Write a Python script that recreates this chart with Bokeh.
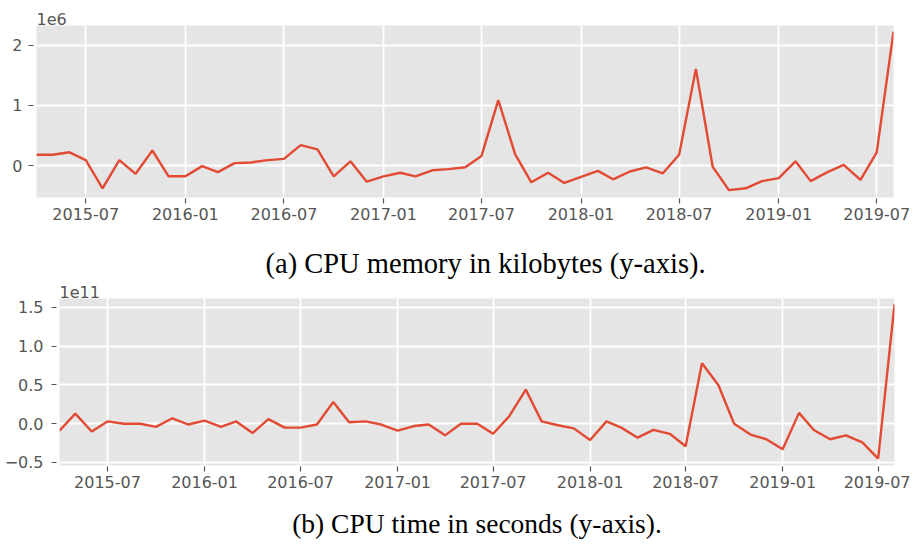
import datetime as dt
from bokeh.plotting import figure
from bokeh.layouts import column, row
from bokeh.models import (Range1d, FixedTicker, DatetimeTickFormatter,
                          CustomJSTickFormatter, Title, ColumnDataSource)
from bokeh.embed import file_html
from bokeh.resources import INLINE

# ---------------- data ----------------
months = [
    "2015-04", "2015-05", "2015-06", "2015-07", "2015-08", "2015-09", "2015-10", "2015-11", "2015-12",
    "2016-01", "2016-02", "2016-03", "2016-04", "2016-05", "2016-06", "2016-07", "2016-08", "2016-09",
    "2016-10", "2016-11", "2016-12", "2017-01", "2017-02", "2017-03", "2017-04", "2017-05", "2017-06",
    "2017-07", "2017-08", "2017-09", "2017-10", "2017-11", "2017-12", "2018-01", "2018-02", "2018-03",
    "2018-04", "2018-05", "2018-06", "2018-07", "2018-08", "2018-09", "2018-10", "2018-11", "2018-12",
    "2019-01", "2019-02", "2019-03", "2019-04", "2019-05", "2019-06", "2019-07", "2019-08",
]

# CPU memory in kilobytes, in units of 1e6
memory_1e6 = [
    0.18, 0.18, 0.22, 0.09, -0.38, 0.09, -0.14, 0.25, -0.18,
    -0.18, -0.01, -0.11, 0.04, 0.05, 0.09, 0.11, 0.34, 0.27,
    -0.18, 0.07, -0.27, -0.18, -0.12, -0.18, -0.08, -0.06, -0.03,
    0.16, 1.09, 0.19, -0.28, -0.12, -0.29, -0.19, -0.09, -0.23,
    -0.10, -0.03, -0.13, 0.18, 1.61, -0.02, -0.41, -0.38, -0.26,
    -0.21, 0.07, -0.26, -0.11, 0.01, -0.24, 0.22, 2.23,
]

# CPU time in seconds, in units of 1e11
time_1e11 = [
    -0.09, 0.13, -0.10, 0.03, 0.00, 0.00, -0.04, 0.07, -0.01,
    0.04, -0.04, 0.03, -0.12, 0.06, -0.05, -0.05, -0.01, 0.28,
    0.02, 0.03, -0.01, -0.09, -0.03, -0.01, -0.15, 0.00, 0.00,
    -0.13, 0.10, 0.44, 0.03, -0.02, -0.06, -0.21, 0.03, -0.05,
    -0.18, -0.08, -0.13, -0.29, 0.78, 0.50, 0.00, -0.14, -0.20,
    -0.33, 0.14, -0.08, -0.20, -0.15, -0.24, -0.45, 1.54,
]

x_tick_labels = ["2015-07", "2016-01", "2016-07", "2017-01", "2017-07",
                 "2018-01", "2018-07", "2019-01", "2019-07"]
memory_ticks = [0, 1, 2]
time_ticks = [-0.5, 0.0, 0.5, 1.0, 1.5]

caption_a = "(a) CPU memory in kilobytes (y-axis)."
caption_b = "(b) CPU time in seconds (y-axis)."

# ---------------- helpers ----------------
def to_date(s):
    y, m = s.split("-")
    return dt.datetime(int(y), int(m), 1)

dates = [to_date(s) for s in months]
tick_ms = [(to_date(s) - dt.datetime(1970, 1, 1)).total_seconds() * 1000 for s in x_tick_labels]

BG = "#E5E5E5"
LINE = "#E24A33"
TXT = "#555555"
SANS = "DejaVu Sans"
SERIF = "Liberation Serif"


def make_panel(yvals, yticks, yrange, left, frame_w, right, top, frame_h, bottom,
               ylabel_fmt, y_standoff):
    p = figure(x_axis_type="datetime", output_backend="svg", toolbar_location=None,
               title=None,
               width=left + frame_w + right, height=top + frame_h + bottom,
               min_border_left=left, min_border_right=right,
               min_border_top=top, min_border_bottom=bottom,
               x_range=Range1d(dates[0], dates[-1]),
               y_range=Range1d(*yrange))
    p.background_fill_color = BG
    p.border_fill_color = "white"
    p.outline_line_color = None

    src = ColumnDataSource(dict(x=dates, y=yvals))
    p.line("x", "y", source=src, line_color=LINE, line_width=2.4)

    for g in (p.xgrid, p.ygrid):
        g.grid_line_color = "white"
        g.grid_line_width = 1.8
    for ax in (p.xaxis[0], p.yaxis[0]):
        ax.axis_line_color = None
        ax.major_tick_line_color = TXT
        ax.major_tick_line_width = 1.2
        ax.minor_tick_line_color = None
        ax.major_label_text_color = TXT
        ax.major_label_text_font = SANS
        ax.major_label_text_font_size = "16px"

    p.xaxis[0].ticker = FixedTicker(ticks=tick_ms)
    p.xaxis[0].formatter = DatetimeTickFormatter(
        days="%Y-%m", months="%Y-%m", years="%Y-%m")
    p.xaxis[0].major_tick_in = -1
    p.xaxis[0].major_tick_out = 6
    p.xaxis[0].major_label_standoff = 4

    p.yaxis[0].ticker = FixedTicker(ticks=yticks)
    p.yaxis[0].formatter = CustomJSTickFormatter(code=ylabel_fmt)
    p.yaxis[0].major_tick_in = -3
    p.yaxis[0].major_tick_out = 8
    p.yaxis[0].major_label_standoff = y_standoff
    return p


def offset_title(text, standoff):
    return Title(text=text, align="left", offset=0, standoff=standoff,
                 text_font=SANS, text_font_style="normal", text_font_size="16px",
                 text_color=TXT)


def caption_title(text, size, offset, standoff):
    return Title(text=text, align="left", offset=offset, standoff=standoff,
                 text_font=SERIF, text_font_style="normal", text_font_size=size,
                 text_color="black")


fmt_int = "return tick.toFixed(0);"
fmt_1 = "return (tick < 0 ? '\\u2212' : '') + Math.abs(tick).toFixed(1);"

# top panel: frame x 36..893, y 25..197 on the page
p1 = make_panel(memory_1e6, memory_ticks, (-0.533, 2.333), 36, 857, 17, 25, 172, 29,
                fmt_int, 6)
p1.add_layout(offset_title("1e6", 2), "above")

# bottom panel: frame x 59..894, y 298..465 on the page (figure starts at y 226)
p2 = make_panel(time_1e11, time_ticks, (-0.539, 1.616), 59, 835, 16, 72, 167, 80,
                fmt_1, 8)
p2.add_layout(offset_title("1e11", 1), "above")                       # next to the frame
p2.add_layout(caption_title(caption_a, "28.5px", 206, 10), "above")   # caption of panel (a)

# caption of panel (b) as the x-axis label of the bottom panel
xb = p2.xaxis[0]
xb.axis_label = caption_b
xb.axis_label_standoff = 17
xb.axis_label_text_font = SERIF
xb.axis_label_text_font_style = "normal"
xb.axis_label_text_font_size = "27.5px"
xb.axis_label_text_color = "black"

layout = column(row(p1), row(p2), spacing=0)
open("out.html", "w").write(file_html(layout, INLINE))
